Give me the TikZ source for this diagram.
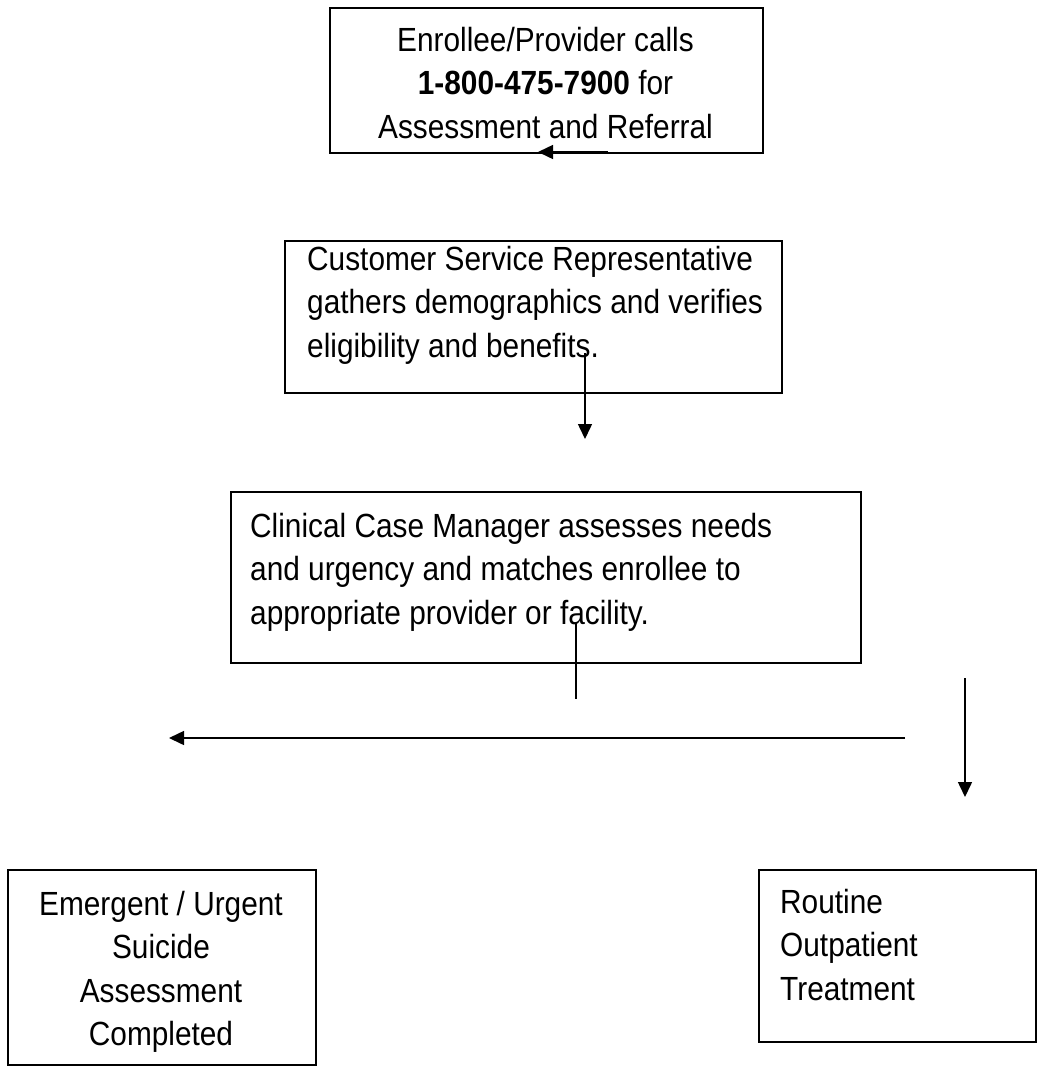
\documentclass[tikz,border=0pt]{standalone}
\usepackage{fontspec}
\setmainfont{Liberation Sans}[FakeStretch=0.89]
\usetikzlibrary{arrows.meta}
\begin{document}
\begin{tikzpicture}[x=1pt,y=-1pt,
  box/.style={draw, line width=1.5pt, inner sep=0pt, anchor=north west},
  txt/.style={inner sep=0pt, font=\fontsize{33.5}{43.5}\selectfont},
  conn/.style={line width=1.5pt},
  arr/.style={conn, -{Triangle[length=15pt,width=14pt]}}]
\useasboundingbox (0,0) rectangle (1038,1066);
% boxes
\node[box, minimum width=433pt, minimum height=145pt] (b1) at (329,7) {};
\node[box, minimum width=497pt, minimum height=152pt] (b2) at (284,240) {};
\node[box, minimum width=630pt, minimum height=171pt] (b3) at (230,491) {};
\node[box, minimum width=308pt, minimum height=195pt] (b4) at (7,869) {};
\node[box, minimum width=277pt, minimum height=172pt] (b5) at (758,869) {};
% texts
\node[txt, anchor=north, align=center] (t1) at (545.5,25)
  {\rule{0pt}{26pt}Enrollee/Provider calls\\ \textbf{1-800-475-7900} for\\ Assessment and Referral};
\node[txt, anchor=north west, align=left] (t2) at (307,244)
  {\rule{0pt}{26pt}Customer Service Representative\\ gathers demographics and verifies\\ eligibility and benefits.};
\node[txt, anchor=north west, align=left] (t3) at (250,511)
  {\rule{0pt}{26pt}Clinical Case Manager assesses needs\\ and urgency and matches enrollee to\\ appropriate provider or facility.};
\node[txt, anchor=north, align=center] (t4) at (161,889)
  {\rule{0pt}{26pt}Emergent / Urgent\\ Suicide\\ Assessment\\ Completed};
\node[txt, anchor=north west, align=left] (t5) at (780,887)
  {\rule{0pt}{26pt}Routine\\ Outpatient\\ Treatment};
% connectors
\coordinate (a1s) at (608,152);
\coordinate (a1e) at (538,152);
\draw[arr] (a1s) -- (a1e);
\coordinate (a2s) at (585,353);
\coordinate (a2e) at (585,439);
\draw[arr] (a2s) -- (a2e);
\coordinate (l3s) at (576,623);
\coordinate (l3e) at (576,699);
\draw[conn] (l3s) -- (l3e);
\coordinate (a4s) at (905,738);
\coordinate (a4e) at (169,738);
\draw[arr] (a4s) -- (a4e);
\coordinate (a5s) at (965,678);
\coordinate (a5e) at (965,797);
\draw[arr] (a5s) -- (a5e);
\end{tikzpicture}
\end{document}
